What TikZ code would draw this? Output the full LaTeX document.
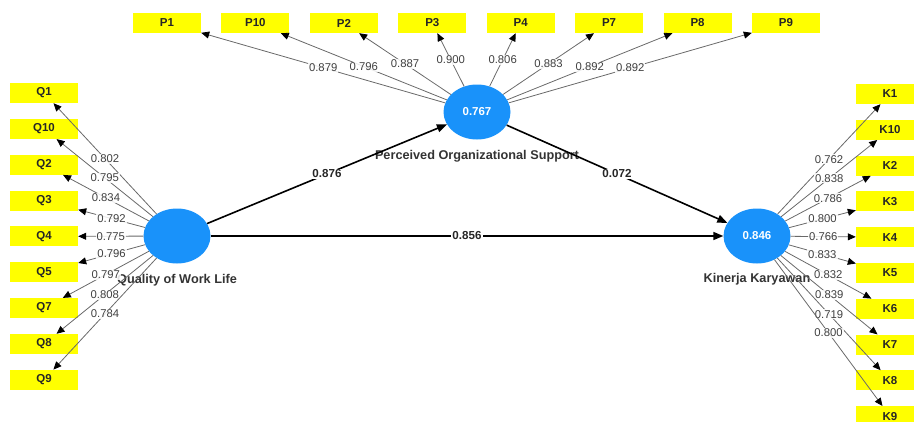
\documentclass[tikz,border=0pt]{standalone}
\usepackage{fontspec}
\setmainfont{Liberation Sans}
\usetikzlibrary{arrows.meta, shapes.geometric}
\definecolor{lvblue}{RGB}{25,146,250}
\definecolor{indyellow}{RGB}{255,255,0}
\definecolor{loadgray}{RGB}{105,105,105}

\begin{document}
\begin{tikzpicture}[x=1pt, y=-1pt,
    ind/.style={rectangle, fill=indyellow, minimum width=68pt, minimum height=20pt, inner sep=0pt, text=black!85, font=\bfseries\fontsize{11.5}{13}\selectfont},
    lv/.style={ellipse, fill=lvblue, minimum width=67pt, minimum height=55pt, inner sep=0pt, text=white, font=\bfseries\fontsize{11.5}{13}\selectfont},
    lvname/.style={font=\bfseries\fontsize{12.7}{14}\selectfont, text=black!80},
    load/.style={-{Triangle[length=8pt, width=7pt, color=black]}, draw=loadgray, line width=0.8pt},
    loadval/.style={midway, fill=white, fill opacity=0.85, text opacity=1, text=black!75, inner sep=1pt, font=\fontsize{11.3}{13}\selectfont},
    inner/.style={-{Triangle[length=10pt, width=8pt]}, line width=1.6pt, black},
    innerval/.style={midway, fill=white, inner sep=1pt, text=black!85, font=\bfseries\fontsize{11.6}{13}\selectfont}]
    \useasboundingbox (0,0) rectangle (914,421);

    % Latent variables
    \node[lv] (qwl) at (177, 236) {};
    \node[lv] (pos) at (477, 112) {0.767};
    \node[lv] (kk) at (757, 236) {0.846};
    \node[lvname] (qwl_name) at (177, 280) {Quality of Work Life};
    \node[lvname] (pos_name) at (477, 156) {Perceived Organizational Support};
    \node[lvname] (kk_name) at (757, 279) {Kinerja Karyawan};

    % Indicators of Quality of Work Life
    \node[ind] (q1) at (44, 93) {Q1};
    \node[ind] (q10) at (44, 128.9) {Q10};
    \node[ind] (q2) at (44, 164.7) {Q2};
    \node[ind] (q3) at (44, 200.6) {Q3};
    \node[ind] (q4) at (44, 236.4) {Q4};
    \node[ind] (q5) at (44, 272.3) {Q5};
    \node[ind] (q7) at (44, 308.1) {Q7};
    \node[ind] (q8) at (44, 344) {Q8};
    \node[ind] (q9) at (44, 379.8) {Q9};

    % Indicators of Perceived Organizational Support
    \node[ind] (p1) at (167, 23) {P1};
    \node[ind] (p10) at (255.4, 23) {P10};
    \node[ind] (p2) at (343.9, 23) {P2};
    \node[ind] (p3) at (432.3, 23) {P3};
    \node[ind] (p4) at (520.7, 23) {P4};
    \node[ind] (p7) at (609.1, 23) {P7};
    \node[ind] (p8) at (697.6, 23) {P8};
    \node[ind] (p9) at (786, 23) {P9};

    % Indicators of Kinerja Karyawan
    \node[ind] (k1) at (890, 94) {K1};
    \node[ind] (k10) at (890, 129.8) {K10};
    \node[ind] (k2) at (890, 165.6) {K2};
    \node[ind] (k3) at (890, 201.4) {K3};
    \node[ind] (k4) at (890, 237.2) {K4};
    \node[ind] (k5) at (890, 273) {K5};
    \node[ind] (k6) at (890, 308.8) {K6};
    \node[ind] (k7) at (890, 344.6) {K7};
    \node[ind] (k8) at (890, 380.4) {K8};
    \node[ind] (k9) at (890, 416.2) {K9};

    % Outer loadings
    \draw[load] (qwl) -- node[loadval] {0.802} (q1);
    \draw[load] (qwl) -- node[loadval] {0.795} (q10);
    \draw[load] (qwl) -- node[loadval] {0.834} (q2);
    \draw[load] (qwl) -- node[loadval] {0.792} (q3);
    \draw[load] (qwl) -- node[loadval] {0.775} (q4);
    \draw[load] (qwl) -- node[loadval] {0.796} (q5);
    \draw[load] (qwl) -- node[loadval] {0.797} (q7);
    \draw[load] (qwl) -- node[loadval] {0.808} (q8);
    \draw[load] (qwl) -- node[loadval] {0.784} (q9);

    \draw[load] (pos) -- node[loadval] {0.879} (p1);
    \draw[load] (pos) -- node[loadval] {0.796} (p10);
    \draw[load] (pos) -- node[loadval] {0.887} (p2);
    \draw[load] (pos) -- node[loadval] {0.900} (p3);
    \draw[load] (pos) -- node[loadval] {0.806} (p4);
    \draw[load] (pos) -- node[loadval] {0.883} (p7);
    \draw[load] (pos) -- node[loadval] {0.892} (p8);
    \draw[load] (pos) -- node[loadval] {0.892} (p9);

    \draw[load] (kk) -- node[loadval] {0.762} (k1);
    \draw[load] (kk) -- node[loadval] {0.838} (k10);
    \draw[load] (kk) -- node[loadval] {0.786} (k2);
    \draw[load] (kk) -- node[loadval] {0.800} (k3);
    \draw[load] (kk) -- node[loadval] {0.766} (k4);
    \draw[load] (kk) -- node[loadval] {0.833} (k5);
    \draw[load] (kk) -- node[loadval] {0.832} (k6);
    \draw[load] (kk) -- node[loadval] {0.839} (k7);
    \draw[load] (kk) -- node[loadval] {0.719} (k8);
    \draw[load] (kk) -- node[loadval] {0.800} (k9);

    % Path coefficients
    \draw[inner] (qwl) -- node[innerval] {0.876} (pos);
    \draw[inner] (qwl) -- node[innerval] {0.856} (kk);
    \draw[inner] (pos) -- node[innerval] {0.072} (kk);
\end{tikzpicture}
\end{document}
